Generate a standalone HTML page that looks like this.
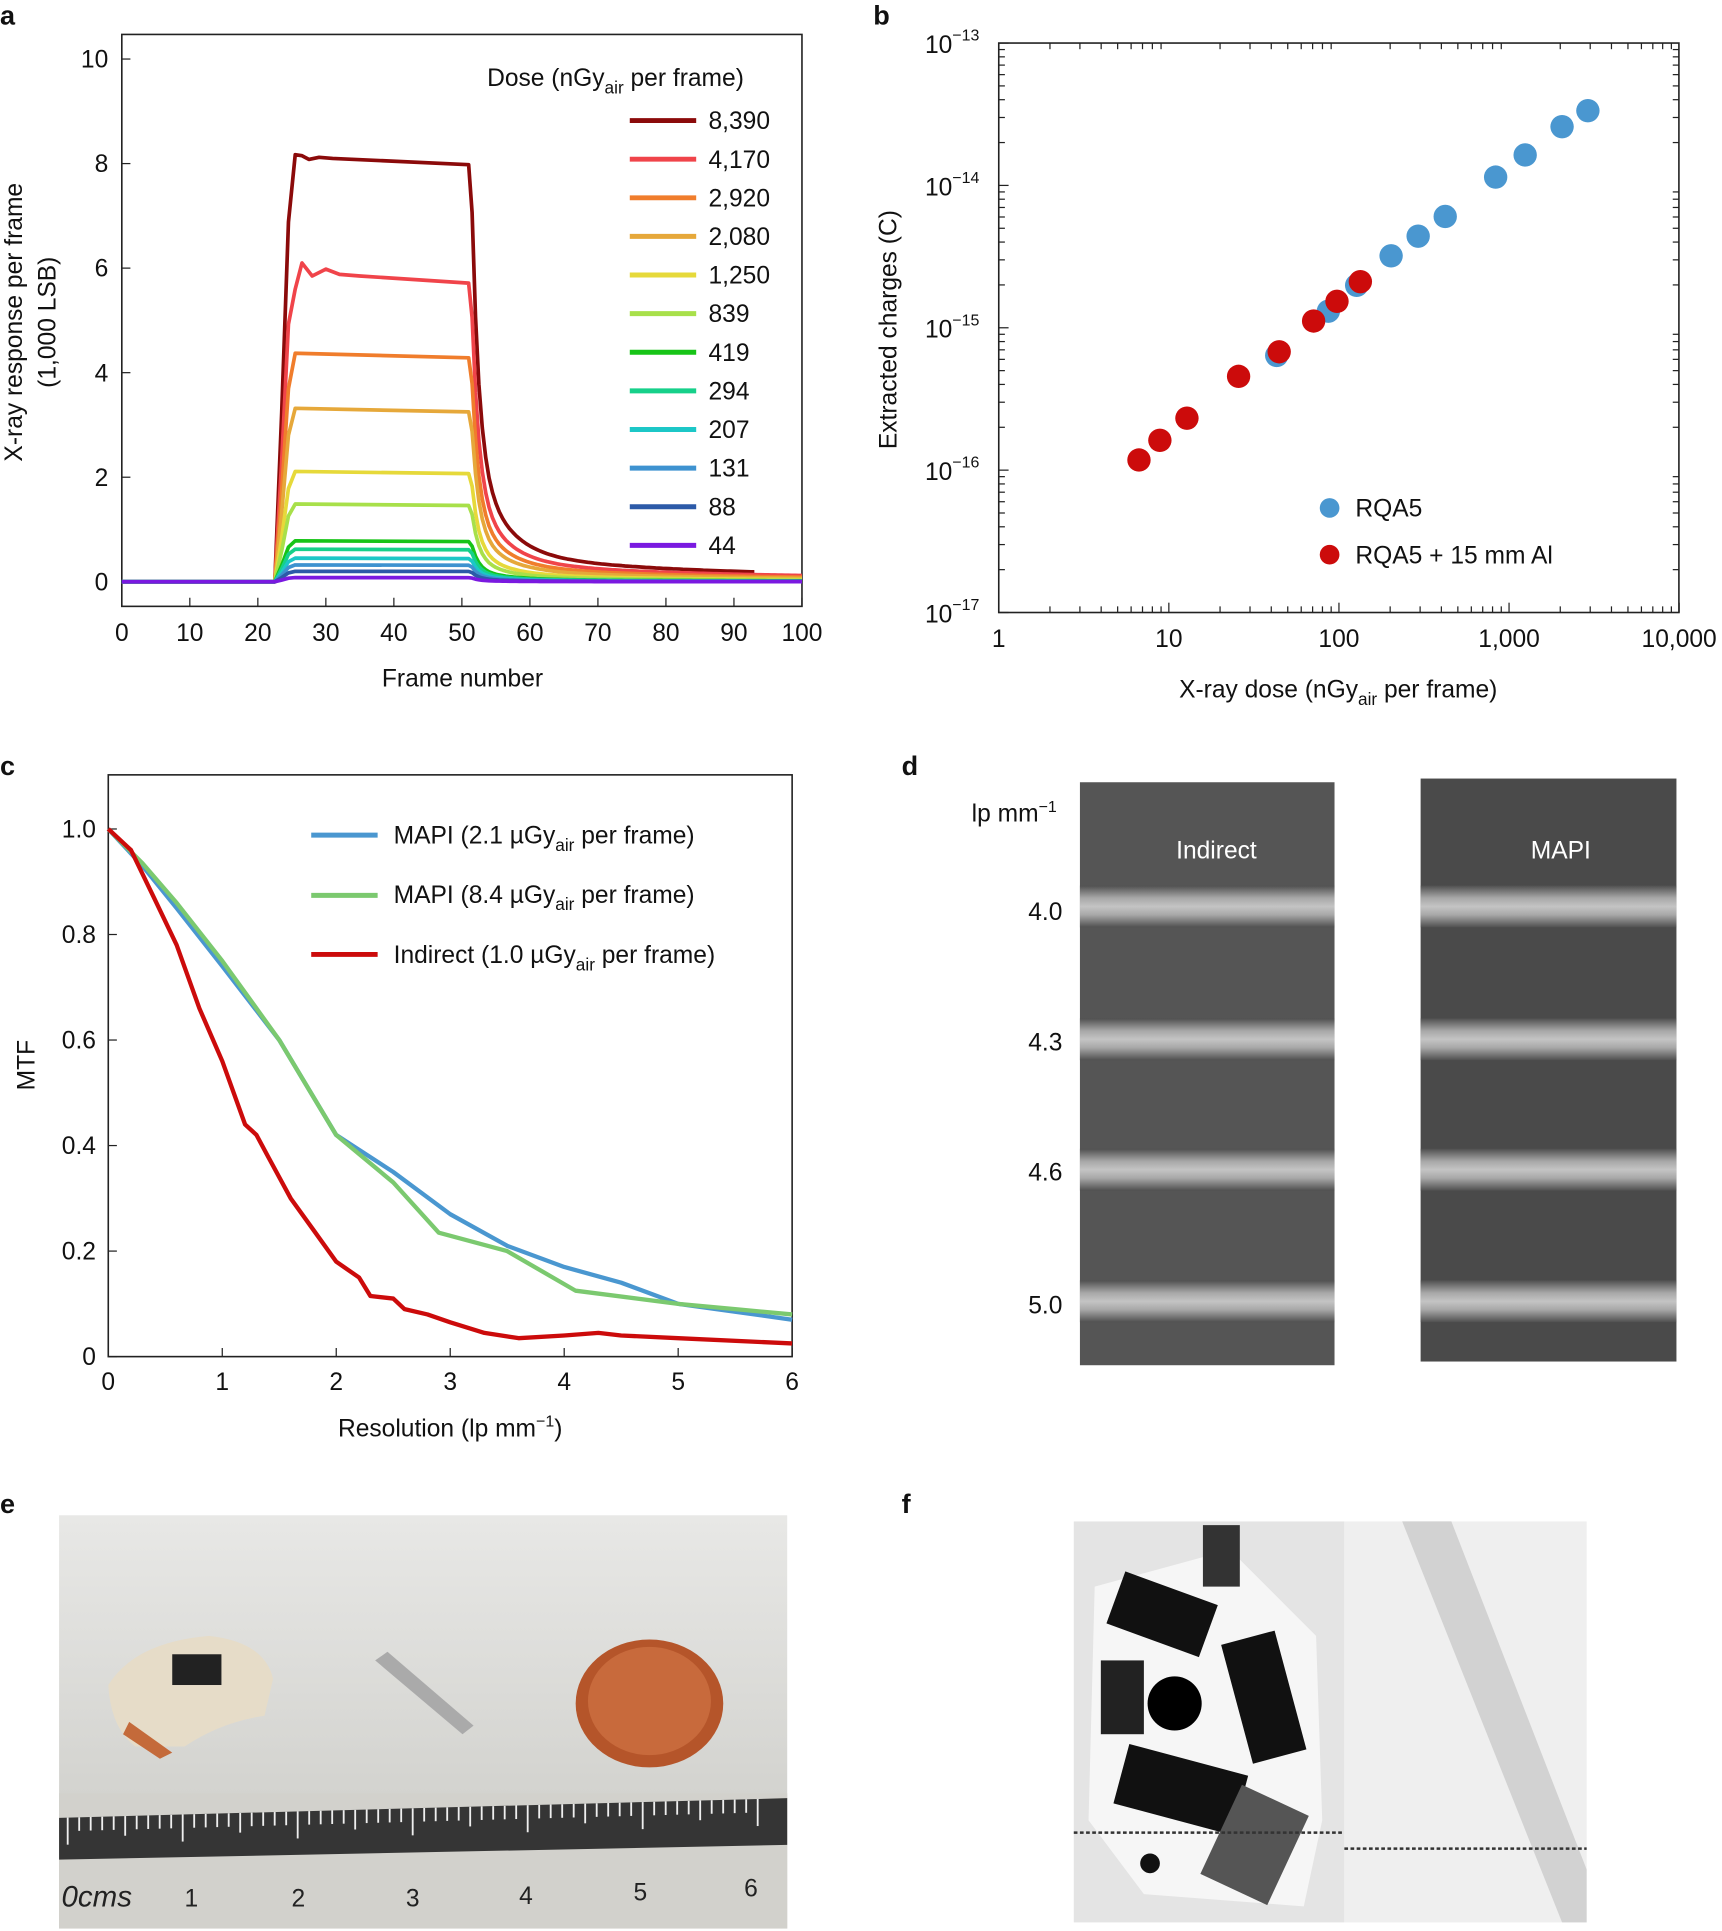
<!DOCTYPE html>
<html><head><meta charset="utf-8"><style>
html,body{margin:0;padding:0;background:#fff}
svg{display:block}
text{font-family:"Liberation Sans",sans-serif;fill:#111}
</style></head><body>
<svg id="s" width="1722" height="1931" viewBox="0 0 1400 1570" xmlns="http://www.w3.org/2000/svg">
<defs>
<linearGradient id="band" x1="0" y1="0" x2="0" y2="1">
<stop offset="0" stop-color="#505050"/><stop offset="0.3" stop-color="#a8a8a8"/><stop offset="0.5" stop-color="#c4c4c4"/><stop offset="0.7" stop-color="#a8a8a8"/><stop offset="1" stop-color="#505050"/></linearGradient>
<linearGradient id="bg" x1="0" y1="0" x2="0" y2="1"><stop offset="0" stop-color="#e8e8e6"/><stop offset="1" stop-color="#c9c9c4"/></linearGradient>
</defs>
<g font-size="20">
<text x="0" y="20" font-weight="bold" font-size="22">a</text>
<text x="710" y="20" font-weight="bold" font-size="22">b</text>
<text x="0" y="630" font-weight="bold" font-size="22">c</text>
<text x="733" y="630" font-weight="bold" font-size="22">d</text>
<text x="0" y="1230" font-weight="bold" font-size="22">e</text>
<text x="733" y="1230" font-weight="bold" font-size="22">f</text>
</g>
<rect x="99" y="28" width="553" height="465" fill="none" stroke="#222" stroke-width="1.3"/>
<g id="ga"></g>
<text x="376" y="558" font-size="20" text-anchor="middle">Frame number</text>
<text transform="translate(18,262) rotate(-90)" font-size="20" text-anchor="middle">X-ray response per frame</text>
<text transform="translate(45,262) rotate(-90)" font-size="20" text-anchor="middle">(1,000 LSB)</text>
<text x="396" y="70" font-size="20">Dose (nGy<tspan font-size="14" dy="6">air</tspan><tspan dy="-6"> per frame)</tspan></text>
<rect x="812" y="35" width="553" height="463" fill="none" stroke="#222" stroke-width="1.3"/>
<g id="gb"></g>
<text x="1088" y="567" font-size="20" text-anchor="middle">X-ray dose (nGy<tspan font-size="14" dy="6">air</tspan><tspan dy="-6"> per frame)</tspan></text>
<text transform="translate(729,268) rotate(-90)" font-size="20" text-anchor="middle">Extracted charges (C)</text>
<circle cx="1081" cy="413" r="8" fill="#4a97d0"/><text x="1102" y="420" font-size="20">RQA5</text>
<circle cx="1081" cy="451" r="8" fill="#cc0b0b"/><text x="1102" y="458" font-size="20">RQA5 + 15 mm Al</text>
<rect x="88" y="630" width="556" height="473" fill="none" stroke="#222" stroke-width="1.3"/>
<g id="gc"></g>
<text x="366" y="1168" font-size="20" text-anchor="middle">Resolution (lp mm<tspan font-size="13" dy="-8">−1</tspan><tspan dy="8">)</tspan></text>
<text transform="translate(28,866) rotate(-90)" font-size="20" text-anchor="middle">MTF</text>
<line x1="253" y1="679" x2="307" y2="679" stroke="#4a97d0" stroke-width="4"/><text x="320" y="686" font-size="20">MAPI (2.1 µGy<tspan font-size="14" dy="6">air</tspan><tspan dy="-6"> per frame)</tspan></text>
<line x1="253" y1="728" x2="307" y2="728" stroke="#7bc96f" stroke-width="4"/><text x="320" y="734" font-size="20">MAPI (8.4 µGy<tspan font-size="14" dy="6">air</tspan><tspan dy="-6"> per frame)</tspan></text>
<line x1="253" y1="776" x2="307" y2="776" stroke="#cc0b0b" stroke-width="4"/><text x="320" y="783" font-size="20">Indirect (1.0 µGy<tspan font-size="14" dy="6">air</tspan><tspan dy="-6"> per frame)</tspan></text>
<g id="gd"></g>
<text x="790" y="668" font-size="20">lp mm<tspan font-size="13" dy="-8">−1</tspan></text>
<text x="836" y="748" font-size="20">4.0</text>
<text x="836" y="854" font-size="20">4.3</text>
<text x="836" y="960" font-size="20">4.6</text>
<text x="836" y="1068" font-size="20">5.0</text>
<text x="989" y="698" font-size="20" style="fill:#fff" text-anchor="middle">Indirect</text>
<text x="1269" y="698" font-size="20" style="fill:#fff" text-anchor="middle">MAPI</text>
<rect x="48" y="1232" width="592" height="336" fill="url(#bg)"/>
<rect x="48" y="1458" width="592" height="110" fill="#d2d1cc"/>
<path d="M48 1478 L640 1462 L640 1500 L48 1512Z" fill="#1a1a1a" opacity="0.85"/>
<g id="ge"></g>
<path d="M88 1370 Q110 1335 170 1330 Q215 1335 222 1365 L215 1395 Q180 1400 150 1420 L110 1420 Q90 1405 88 1370Z" fill="#e6dcc8"/>
<rect x="140" y="1345" width="40" height="25" fill="#222"/>
<path d="M105 1400 L140 1425 L130 1430 L100 1410Z" fill="#c46a3a"/>
<path d="M305 1350 L315 1343 L385 1403 L376 1410Z" fill="#aaa"/>
<ellipse cx="528" cy="1385" rx="60" ry="52" fill="#b5552a"/>
<ellipse cx="528" cy="1383" rx="50" ry="44" fill="#c86a3c"/>
<text x="50" y="1550" font-size="24" font-style="italic" style="fill:#222">0cms</text>
<text x="150" y="1550" font-size="20" style="fill:#222">1</text>
<text x="237" y="1550" font-size="20" style="fill:#222">2</text>
<text x="330" y="1550" font-size="20" style="fill:#222">3</text>
<text x="422" y="1548" font-size="20" style="fill:#222">4</text>
<text x="515" y="1545" font-size="20" style="fill:#222">5</text>
<text x="605" y="1542" font-size="20" style="fill:#222">6</text>
<rect x="873" y="1237" width="220" height="326" fill="#e4e4e4"/>
<path d="M890 1290 L1000 1260 L1070 1330 L1075 1480 L1060 1550 L930 1540 L885 1480Z" fill="#f6f6f6"/>
<rect x="905" y="1290" width="80" height="45" fill="#111" transform="rotate(20 945 1312)"/>
<rect x="895" y="1350" width="35" height="60" fill="#222"/>
<circle cx="955" cy="1385" r="22" fill="#000"/>
<rect x="1005" y="1330" width="45" height="100" fill="#111" transform="rotate(-15 1027 1380)"/>
<rect x="910" y="1430" width="100" height="50" fill="#111" transform="rotate(15 960 1455)"/>
<rect x="990" y="1460" width="60" height="80" fill="#555" transform="rotate(25 1020 1500)"/>
<rect x="978" y="1240" width="30" height="50" fill="#333"/>
<circle cx="935" cy="1515" r="8" fill="#111"/>
<rect x="1093" y="1237" width="197" height="326" fill="#efefef"/>
<path d="M1140 1237 L1180 1237 L1290 1520 L1290 1563 L1270 1563Z" fill="#d2d2d2"/>
<line x1="873" y1="1490" x2="1093" y2="1490" stroke="#333" stroke-width="2" stroke-dasharray="3 2"/>
<line x1="1093" y1="1503" x2="1290" y2="1503" stroke="#333" stroke-width="2" stroke-dasharray="3 2"/>
</svg>
<script>
var NS="http://www.w3.org/2000/svg";
function el(p,t,a,txt){var e=document.createElementNS(NS,t);for(var k in a)e.setAttribute(k,a[k]);if(txt!=null)e.textContent=txt;p.appendChild(e);return e;}
var ga=document.getElementById('ga');
function ax(x){return 99+x*5.53} function ay(y){return 473-y*42.5}
for(var i=0;i<=10;i++){var x=ax(i*10);el(ga,'line',{x1:x,y1:493,x2:x,y2:486,stroke:'#222'});el(ga,'text',{x:x,y:521,'font-size':20,'text-anchor':'middle'},i*10);}
for(var i=0;i<=5;i++){var y=ay(i*2);el(ga,'line',{x1:99,y1:y,x2:106,y2:y,stroke:'#222'});el(ga,'text',{x:88,y:y+7,'font-size':20,'text-anchor':'end'},i*2);}
var cols=['#8b0a0a','#f0444a','#f07d2c','#e6a83a','#e6d93a','#a8e04a','#17c417','#16d08a','#1cc7c7','#3e92d0','#2c5aa8','#7a19e0'];
var vals=[8.1,5.8,4.35,3.3,2.1,1.48,0.78,0.62,0.45,0.32,0.2,0.08];
var labs=['8,390','4,170','2,920','2,080','1,250','839','419','294','207','131','88','44'];
for(var j=0;j<12;j++){
 var ly=98+j*31.4;el(ga,'line',{x1:512,y1:ly,x2:566,y2:ly,stroke:cols[j],'stroke-width':4});el(ga,'text',{x:576,y:ly+7,'font-size':20},labs[j]);
 var v=vals[j];var pts=[[0,0],[22.5,0],[23.5,v*0.4],[24.5,v*0.85]];
 if(j==0){pts.push([25.5,8.17],[26.5,8.15],[27.5,8.08],[29,8.12],[31,8.1]);}
 else if(j==1){pts.push([25.5,5.6],[26.5,6.1],[28,5.85],[30,5.98],[32,5.88],[35,5.85]);}
 else pts.push([25.5,v*1.005]);
 pts.push([51,v*0.985]);
 for(var x=51.5;x<=100;x+=0.5){var t=x-51.5;var f=0.55*Math.exp(-t/1.0)+0.25*Math.exp(-t/4)+0.06*Math.exp(-t/25)+0.012;if(x>93&&j==0)break;pts.push([x,v*Math.min(f,0.985)]);}
 var d=pts.map(function(p,k){return (k?'L':'M')+ax(p[0]).toFixed(1)+' '+ay(p[1]).toFixed(1)}).join('');
 el(ga,'path',{d:d,fill:'none',stroke:cols[j],'stroke-width':3,'stroke-linejoin':'round'});
}
var gb=document.getElementById('gb');
function bx(l){return 812+l*138.3} function by(l){return 498-(l+17)*115.75}
var xl=['1','10','100','1,000','10,000'];
for(var i=0;i<=4;i++){var x=bx(i);el(gb,'line',{x1:x,y1:498,x2:x,y2:490,stroke:'#222'});el(gb,'text',{x:x,y:526,'font-size':20,'text-anchor':'middle'},xl[i]);
 if(i<4)for(var m=2;m<10;m++){var xm=bx(i+Math.log10(m));el(gb,'line',{x1:xm,y1:498,x2:xm,y2:493,stroke:'#222'});el(gb,'line',{x1:xm,y1:35,x2:xm,y2:40,stroke:'#222'});}}
for(var e=-17;e<=-13;e++){var y=by(e);el(gb,'line',{x1:812,y1:y,x2:820,y2:y,stroke:'#222'});
 var t=el(gb,'text',{x:752,y:y+8,'font-size':20},'10');var ts=document.createElementNS(NS,'tspan');ts.setAttribute('font-size',13);ts.setAttribute('dy',-10);ts.textContent='−'+(-e);t.appendChild(ts);
 if(e<-13)for(var m=2;m<10;m++){var ym=by(e+Math.log10(m));el(gb,'line',{x1:812,y1:ym,x2:817,y2:ym,stroke:'#222'});el(gb,'line',{x1:1365,y1:ym,x2:1360,y2:ym,stroke:'#222'});}}
var blue=[[1038,289],[1080,253],[1103,232],[1131,208],[1153,192],[1175,176],[1216,144],[1240,126],[1270,103],[1291,90]];
var red=[[926,374],[943,358],[965,340],[1007,306],[1040,286],[1068,261],[1087,245],[1106,229]];
blue.forEach(function(p){el(gb,'circle',{cx:p[0],cy:p[1],r:9.5,fill:'#4a97d0'})});
red.forEach(function(p){el(gb,'circle',{cx:p[0],cy:p[1],r:9.5,fill:'#cc0b0b'})});
var gc=document.getElementById('gc');
function cx(x){return 88+x*92.67} function cy(y){return 1103-y*429}
for(var i=0;i<=6;i++){var x=cx(i);el(gc,'line',{x1:x,y1:1103,x2:x,y2:1096,stroke:'#222'});el(gc,'text',{x:x,y:1130,'font-size':20,'text-anchor':'middle'},i);}
var yl=['0','0.2','0.4','0.6','0.8','1.0'];
for(var i=0;i<=5;i++){var y=cy(i*0.2);el(gc,'line',{x1:88,y1:y,x2:95,y2:y,stroke:'#222'});el(gc,'text',{x:78,y:y+7,'font-size':20,'text-anchor':'end'},yl[i]);}
function pl(pts,c){el(gc,'path',{d:pts.map(function(p,k){return (k?'L':'M')+cx(p[0]).toFixed(1)+' '+cy(p[1]).toFixed(1)}).join(''),fill:'none',stroke:c,'stroke-width':3.5,'stroke-linejoin':'round'});}
pl([[0,1],[0.3,0.93],[0.6,0.85],[1,0.74],[1.5,0.6],[2,0.42],[2.5,0.35],[3,0.27],[3.5,0.21],[4,0.17],[4.5,0.14],[5,0.1],[5.5,0.085],[6,0.07]],'#4a97d0');
pl([[0,1],[0.3,0.935],[0.6,0.86],[1,0.75],[1.5,0.6],[2,0.42],[2.5,0.33],[2.9,0.235],[3.5,0.2],[4.1,0.125],[5,0.1],[5.5,0.09],[6,0.08]],'#7bc96f');
pl([[0,1],[0.2,0.96],[0.4,0.87],[0.6,0.78],[0.8,0.66],[1,0.56],[1.2,0.44],[1.3,0.42],[1.4,0.38],[1.6,0.3],[1.8,0.24],[2,0.18],[2.2,0.15],[2.3,0.115],[2.5,0.11],[2.6,0.09],[2.8,0.08],[3,0.065],[3.3,0.045],[3.6,0.035],[4,0.04],[4.3,0.045],[4.5,0.04],[5,0.035],[6,0.025]],'#cc0b0b');
var gd=document.getElementById('gd');
[[878,636,1085,1110,'#555'],[1155,633,1363,1107,'#4a4a4a']].forEach(function(r){
 el(gd,'rect',{x:r[0],y:r[1],width:r[2]-r[0],height:r[3]-r[1],fill:r[4]});
 [737,845,951,1058].forEach(function(b){el(gd,'rect',{x:r[0],y:b-17,width:r[2]-r[0],height:34,fill:'url(#band)'});});
});
var ge=document.getElementById('ge');
for(var i=0;i<=60;i++){var x=55+i*9.35;var ytop=1478-(x-48)*0.027;el(ge,'line',{x1:x,y1:ytop,x2:x,y2:ytop+(i%10==0?22:(i%5==0?16:11)),stroke:'#eee','stroke-width':1.5});}
</script>
</body></html>
